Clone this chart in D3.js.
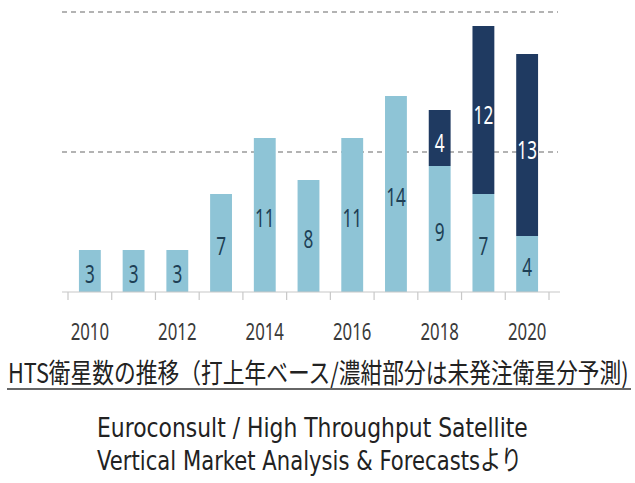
<!DOCTYPE html>
<html>
<head>
<meta charset="utf-8">
<script src="https://cdn.jsdelivr.net/npm/d3@7"></script>
<style>
  body { margin: 0; background: #fff; }
  svg { display: block; }
</style>
</head>
<body>
<div id="chart"></div>
<script>
// HTS satellites per launch year; dark part = not yet ordered (forecast)
const years    = [2010, 2011, 2012, 2013, 2014, 2015, 2016, 2017, 2018, 2019, 2020];
const ordered  = [3, 3, 3, 7, 11, 8, 11, 14, 9, 7, 4];
const forecast = [0, 0, 0, 0, 0, 0, 0, 0, 4, 12, 13];
const yearLabels = [2010, 2012, 2014, 2016, 2018, 2020];
const gridValues = [10, 20];
const title   = "HTS衛星数の推移（打上年ベース/濃紺部分は未発注衛星分予測)";
const source1 = "Euroconsult / High Throughput Satellite";
const source2 = "Vertical Market Analysis & Forecastsより";

const W = 635, H = 483;
const LIGHT = '#8ec4d6', NAVY = '#1f3a61';
const FONT = "'Noto Sans', 'Noto Sans CJK JP', sans-serif";
const SRC_FONT = "'DejaVu Sans', 'Noto Sans CJK JP', sans-serif";

const svg = d3.select('#chart').append('svg')
  .attr('width', W)
  .attr('height', H);

const x = d3.scaleBand()
  .domain(years)
  .range([68, 549])
  .paddingInner(0.5)
  .paddingOuter(0.25);

const y = d3.scaleLinear().domain([0, 20]).range([292, 12]);

// dashed gridlines
svg.selectAll('.grid').data(gridValues)
  .enter().append('line')
    .classed('grid', true)
    .attr('x1', 62).attr('x2', 558)
    .attr('y1', d => y(d)).attr('y2', d => y(d))
    .attr('stroke', '#9a9a9a')
    .attr('stroke-width', 1.5)
    .attr('stroke-dasharray', '5,4');

const rows = years.map((yr, i) => ({year: yr, a: ordered[i], b: forecast[i]}));

// light (ordered) part
svg.selectAll('.bar-a').data(rows)
  .enter().append('rect')
    .classed('bar-a', true)
    .attr('x', d => x(d.year))
    .attr('width', x.bandwidth())
    .attr('y', d => y(d.a))
    .attr('height', d => y(0) - y(d.a))
    .attr('fill', LIGHT);

// dark (forecast) part
svg.selectAll('.bar-b').data(rows.filter(d => d.b > 0))
  .enter().append('rect')
    .classed('bar-b', true)
    .attr('x', d => x(d.year))
    .attr('width', x.bandwidth())
    .attr('y', d => y(d.a + d.b))
    .attr('height', d => y(d.a) - y(d.a + d.b))
    .attr('fill', NAVY);

// condensed text: squeeze horizontally by a factor
function squeezed(sel, cx, cy, sx) {
  return sel.attr('transform', `translate(${cx},${cy}) scale(${sx},1)`);
}
// squeeze a text so it spans exactly `width` px
function fitTo(sel, left, base, width) {
  const w = sel.node().getComputedTextLength();
  return sel.attr('transform', `translate(${left},${base}) scale(${width / w},1)`);
}

svg.selectAll('.lab-a').data(rows)
  .enter().append('text')
    .classed('lab-a', true)
    .attr('text-anchor', 'middle')
    .attr('dominant-baseline', 'central')
    .attr('font-family', FONT)
    .attr('font-size', 26)
    .attr('fill', '#1d3f55')
    .text(d => d.a)
    .each(function(d) {
      squeezed(d3.select(this), x(d.year) + x.bandwidth() / 2, (y(0) + y(d.a)) / 2 + 1, 0.66);
    });

svg.selectAll('.lab-b').data(rows.filter(d => d.b > 0))
  .enter().append('text')
    .classed('lab-b', true)
    .attr('text-anchor', 'middle')
    .attr('dominant-baseline', 'central')
    .attr('font-family', FONT)
    .attr('font-size', 26)
    .attr('fill', '#ffffff')
    .text(d => d.b)
    .each(function(d) {
      squeezed(d3.select(this), x(d.year) + x.bandwidth() / 2, (y(d.a) + y(d.a + d.b)) / 2 + 3, 0.66);
    });

// x axis: baseline + ticks at band boundaries
svg.append('line')
  .attr('x1', 62).attr('x2', 560)
  .attr('y1', y(0)).attr('y2', y(0))
  .attr('stroke', '#c8c8c8')
  .attr('stroke-width', 1.2);

const step = x.step();
const bounds = years.map(d => x(d) + x.bandwidth() / 2 - step / 2)
  .concat([x(years[years.length - 1]) + x.bandwidth() / 2 + step / 2]);

svg.selectAll('.tick').data(bounds)
  .enter().append('line')
    .classed('tick', true)
    .attr('x1', d => d).attr('x2', d => d)
    .attr('y1', y(0)).attr('y2', y(0) + 8)
    .attr('stroke', '#c8c8c8')
    .attr('stroke-width', 1.2);

svg.selectAll('.year').data(yearLabels)
  .enter().append('text')
    .classed('year', true)
    .attr('text-anchor', 'middle')
    .attr('font-family', FONT)
    .attr('font-size', 24)
    .attr('fill', '#3a3a3a')
    .text(d => d)
    .each(function(d) {
      squeezed(d3.select(this), x(d) + x.bandwidth() / 2, 340, 0.7);
    });

// title (underlined) and source
svg.append('text')
  .attr('font-family', "'Noto Sans CJK JP', sans-serif")
  .attr('font-size', 27)
  .attr('fill', '#222')
  .text(title)
  .call(fitTo, 8, 383, 621);

svg.append('line')
  .attr('x1', 7).attr('x2', 631)
  .attr('y1', 389).attr('y2', 389)
  .attr('stroke', '#333')
  .attr('stroke-width', 1.6);

svg.append('text')
  .attr('font-family', SRC_FONT)
  .attr('font-size', 27)
  .attr('fill', '#222')
  .text(source1)
  .call(fitTo, 97, 437, 431);

svg.append('text')
  .attr('font-family', SRC_FONT)
  .attr('font-size', 27)
  .attr('fill', '#222')
  .text(source2)
  .call(fitTo, 97, 470, 425);
</script>
</body>
</html>
